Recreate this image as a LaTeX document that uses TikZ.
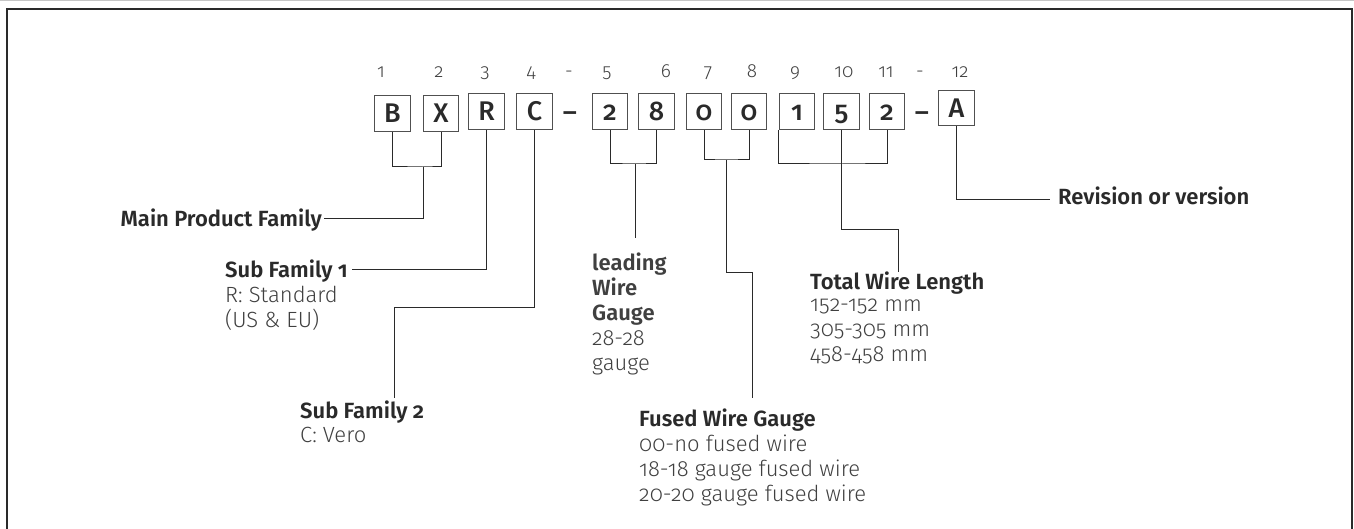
\documentclass[tikz,border=0pt]{standalone}
\usepackage{fontspec}
\setmainfont{Fira Sans Light}[Numbers=OldStyle,BoldFont={Fira Sans SemiBold}]
\newfontfamily\boxfont{Fira Sans Medium}[Numbers=OldStyle]
\usetikzlibrary{positioning}

\definecolor{inkdark}{HTML}{2A2A2A}
\definecolor{inkbody}{HTML}{404040}
\definecolor{boxline}{HTML}{505050}

\tikzset{
  charbox/.style={draw=boxline, line width=1.1pt, minimum size=35.5pt, inner sep=0pt,
    text height=18.6pt, text depth=0pt, text=inkdark, font=\boxfont\fontsize{27}{27}\selectfont},
  dashmark/.style={inner sep=0pt, text=inkdark, font=\boxfont\fontsize{27}{27}\selectfont},
  posnum/.style={inner sep=0pt, text=inkbody, font=\fontsize{19}{19}\selectfont},
  heading/.style={inner sep=0pt, text height=15.5pt, text depth=0pt, text=inkdark,
    font=\bfseries\fontsize{22}{22}\selectfont},
  infoblock/.style={inner sep=0pt, align=left, anchor=north west, text=inkbody,
    font=\fontsize{22}{25}\selectfont},
  wire/.style={draw=inkdark, line width=1pt},
}

\begin{document}
\begin{tikzpicture}[x=1pt,y=-1pt]
  \useasboundingbox (0,0) rectangle (1354,529);

  % outer frame, open at the bottom
  \draw[gray!45, line width=1pt] (0,0.5) -- (1354,0.5);
  \draw[draw=inkdark, line width=1.3pt] (7,529) -- (7,9) -- (1352,9) -- (1352,529);

  % position numbers
  \foreach \x/\t [count=\i] in {381/1,439/2,485/3,531/4,569/-,607/5,666/6,708/7,
      752/8,795/9,844/10,886/11,920/-,960/12}
    \node[posnum, anchor=base] (n\i) at (\x,78) {\t};

  % the code characters
  \foreach \name/\x/\y/\ch in {b1/392.5/113.5/B, b2/441/113.5/X, b3/486.5/111.5/R,
      b4/534.5/111.5/C, b5/610/111.5/2, b6/656.5/111.5/8, b7/704/111.5/0,
      b8/749/111.5/0, b9/797/111.5/1, b10/841.5/111.5/5, b11/887/111.5/2,
      b12/956.5/108/A}
    \node[charbox] (\name) at (\x,\y) {\ch};
  \node[dashmark, anchor=base] (hy1) at (570,122) {–};
  \node[dashmark, anchor=base] (hy2) at (922,122) {–};

  % labels
  \node[heading, anchor=base east] (mainfam) at (322,227) {Main Product Family};
  \node[heading, anchor=base west] (sub1) at (225,277) {Sub Family 1};
  \node[infoblock] (sub1info) at ([yshift=-8.7pt]sub1.base west) {R: Standard\\(US \& EU)};
  \node[heading, anchor=base west] (sub2) at (300,418) {Sub Family 2};
  \node[infoblock] (sub2info) at ([yshift=-8.7pt]sub2.base west) {C: Vero};
  \node[infoblock] (leadgauge) at (592,252.7)
    {\textbf{leading}\\\textbf{Wire}\\\textbf{Gauge}\\28-28\\gauge};
  \node[heading, anchor=base west] (fused) at (639,426) {Fused Wire Gauge};
  \node[infoblock] (fusedinfo) at ([yshift=-8.7pt]fused.base west)
    {00-no fused wire\\18-18 gauge fused wire\\20-20 gauge fused wire};
  \node[heading, anchor=base west] (length) at (810,290) {Total Wire Length};
  \node[infoblock] (lengthinfo) at ([yshift=-8.7pt]length.base west)
    {152-152 mm\\305-305 mm\\458-458 mm};
  \node[heading, anchor=base west] (rev) at (1058,205) {Revision or version};

  % bends of the connectors
  \coordinate (bxfork) at (423,167);
  \coordinate (cjog) at (394,307);
  \coordinate (sub2top) at (394,398);
  \coordinate (gaugefork) at (635,164);
  \coordinate (leadtop) at (635,238);
  \coordinate (fusefork) at (726,160);
  \coordinate (fusebend) at (752,273);
  \coordinate (fusetop) at (752,398);
  \coordinate (lenbar) at (842,164);
  \coordinate (lenbend) at (898,230);
  \coordinate (lentop) at (898,272);

  % connectors
  \draw[wire] (b1.south) |- (bxfork) -| (b2.south);
  \draw[wire] (bxfork) |- ([xshift=2pt,yshift=1pt]mainfam.east);
  \draw[wire] (b3.south) |- ([xshift=4pt]sub1.east);
  \draw[wire] (b4.south) |- (cjog) -- (sub2top);
  \draw[wire] (b5.south) |- (gaugefork) -| (b6.south);
  \draw[wire] (gaugefork) -- (leadtop);
  \draw[wire] (b7.south) |- (fusefork) -| (b8.south);
  \draw[wire] (fusefork) |- (fusebend) -- (fusetop);
  \draw[wire] (b9.south west) |- (lenbar) -| (b11.south);
  \draw[wire] (b10.south) |- (lenbend) -- (lentop);
  \draw[wire] (b12.south) |- ([xshift=-8pt,yshift=-2pt]rev.west);
\end{tikzpicture}
\end{document}
